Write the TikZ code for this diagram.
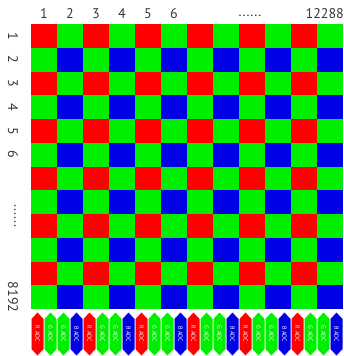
\documentclass[tikz,border=0pt]{standalone}
\usepackage{fontspec}
\setmainfont{PT Sans}
\usetikzlibrary{shapes.symbols}
\definecolor{pixred}{RGB}{255,0,0}
\definecolor{pixgreen}{RGB}{0,238,0}
\definecolor{pixblue}{RGB}{0,0,228}
\definecolor{labelgray}{RGB}{55,55,55}

\begin{document}
\begin{tikzpicture}[x=1pt, y=-1pt,
    collabel/.style={font=\fontsize{14}{14}\selectfont, text=labelgray, inner sep=0pt},
    rowlabel/.style={collabel, rotate=-90},
    adc/.style={signal, signal to=east and west, signal pointer angle=85, rotate=-90,
        minimum width=44pt, minimum height=12.5pt, inner sep=0pt, draw=white, line width=0.3pt,
        text=white, font=\fontsize{6}{6}\selectfont}
]
\useasboundingbox (0,0) rectangle (344,356);

% Bayer pixel array, drawn as 2x2 blocks
\foreach \r in {0,2,...,10}
  \foreach \c in {0,2,...,10} {
    \fill[pixred]   ({31+26*\c},{24+23.75*\r}) rectangle ++(26,23.75);
    \fill[pixgreen] ({57+26*\c},{24+23.75*\r}) rectangle ++(26,23.75);
    \fill[pixgreen] ({31+26*\c},{47.75+23.75*\r}) rectangle ++(26,23.75);
    \fill[pixblue]  ({57+26*\c},{47.75+23.75*\r}) rectangle ++(26,23.75);
  }

% Column numbers
\foreach \c in {1,...,6}
  \node[collabel] (col\c) at ({18+26*\c},14) {\c};
\node[collabel] (coldots) at (250,16) {......};
\node[collabel, anchor=east] (collast) at (344,14) {12288};

% Row numbers
\foreach \r in {1,...,6}
  \node[rowlabel] (row\r) at (13,{12.125+23.75*\r}) {\r};
\node[rowlabel] (rowdots) at (15,216) {......};
\node[rowlabel] (rowlast) at (13,297) {8192};

% ADC per half column
\foreach \k in {0,...,5}
  \foreach \ch/\col [count=\i from 0] in {R/pixred,G/pixgreen,G/pixgreen,B/pixblue} {
    \pgfmathtruncatemacro\n{4*\k+\i}
    \node[adc, fill=\col] (adc\n) at ({37.5+13*\n},334) {\ch\ ADC};
  }
\end{tikzpicture}
\end{document}
